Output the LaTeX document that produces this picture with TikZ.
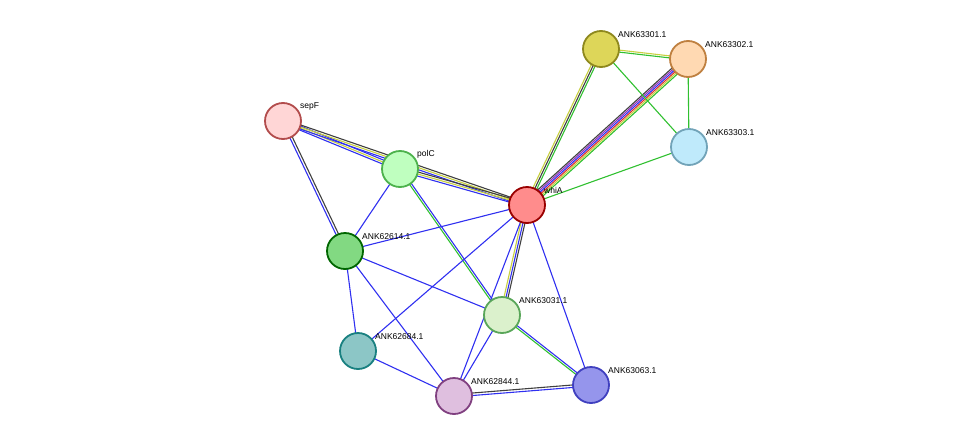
\documentclass[tikz,border=0pt]{standalone}
\usepackage{fontspec}
\setmainfont{Liberation Sans}
\usetikzlibrary{calc}
\pgfdeclarelayer{bg}\pgfsetlayers{bg,main}
\definecolor{eb}{HTML}{3030F0}
\definecolor{ey}{HTML}{C8D040}
\definecolor{eg}{HTML}{30C030}
\definecolor{ek}{HTML}{404040}
\definecolor{er}{HTML}{E03030}
\definecolor{ep}{HTML}{9030C0}
\definecolor{ec}{HTML}{30A0E0}
\newcommand\sedge[3]{\foreach \c/\o in {#3}{\draw[\c,line width=1.1pt] ($(#1)!\o pt!90:(#2)$) -- ($(#2)!\o pt!-90:(#1)$);}}
\tikzset{prot/.style={circle,minimum size=36pt,inner sep=0pt,line width=1.8pt},
lab/.style={font=\fontsize{8.5pt}{9pt}\selectfont,anchor=south west,inner sep=1pt}}
\begin{document}
\begin{tikzpicture}[x=1pt,y=-1pt]
\useasboundingbox (0,0) rectangle (976,442);
\newcommand\prot[5]{\node[prot,fill=#4,draw=#5] (#1) at (#2) {};\node[lab] at ($(#2)+(16,-10)$) {#3};}
\prot{sepF}{283,121}{sepF}{pink!80!red!40}{red!40!gray}
\prot{polC}{400,169}{polC}{green!25!white}{green!40!gray}
\prot{whiA}{527,205}{whiA}{red!45!white}{red!60!black}
\prot{a301}{601,49}{ANK63301.1}{yellow!50!olive!60!white}{olive!80!gray}
\prot{a302}{688,59}{ANK63302.1}{orange!30!white}{orange!50!gray}
\prot{a303}{689,147}{ANK63303.1}{cyan!25!white}{cyan!40!gray}
\prot{a614}{345,251}{ANK62614.1}{green!40!white!85!black}{green!40!black}
\prot{a031}{502,315}{ANK63031.1}{yellow!30!green!20!white}{green!30!gray}
\prot{a684}{358,351}{ANK62684.1}{teal!45!white}{teal!80!gray}
\prot{a844}{454,396}{ANK62844.1}{violet!25!white}{violet!50!gray}
\prot{a063}{591,385}{ANK63063.1}{blue!40!white!85!gray}{blue!50!gray}
\begin{pgfonlayer}{bg}
\sedge{sepF}{polC}{eb/-2,ey/0,eb/2}
\sedge{sepF}{whiA}{eb/-2,ey/0,ek/2}
\sedge{sepF}{a614}{eb/-1,ek/1.5}
\sedge{polC}{whiA}{eb/-2,ey/0,ek/2}
\sedge{polC}{a614}{eb/0}
\sedge{polC}{a031}{eg/-1,eb/1}
\sedge{whiA}{a301}{eg/-2,ek/0,ey/2}
\sedge{whiA}{a302}{eg/-4,ey/-2.4,er/-0.8,eb/0.8,ep/2.4,ek/4}
\sedge{whiA}{a303}{eg/0}
\sedge{a301}{a302}{eg/-1,ey/1}
\sedge{a301}{a303}{eg/0}
\sedge{a302}{a303}{eg/0}
\sedge{whiA}{a614}{eb/0}
\sedge{whiA}{a031}{ey/-2,eb/0,ek/2}
\sedge{whiA}{a684}{eb/0}
\sedge{whiA}{a844}{eb/0}
\sedge{whiA}{a063}{eb/0}
\sedge{a614}{a031}{eb/0}
\sedge{a614}{a684}{eb/0}
\sedge{a614}{a844}{eb/0}
\sedge{a031}{a844}{eb/0}
\sedge{a031}{a063}{eg/-1,eb/1}
\sedge{a684}{a844}{eb/0}
\sedge{a844}{a063}{eb/-1,ek/1.5}
\end{pgfonlayer}
\end{tikzpicture}
\end{document}
